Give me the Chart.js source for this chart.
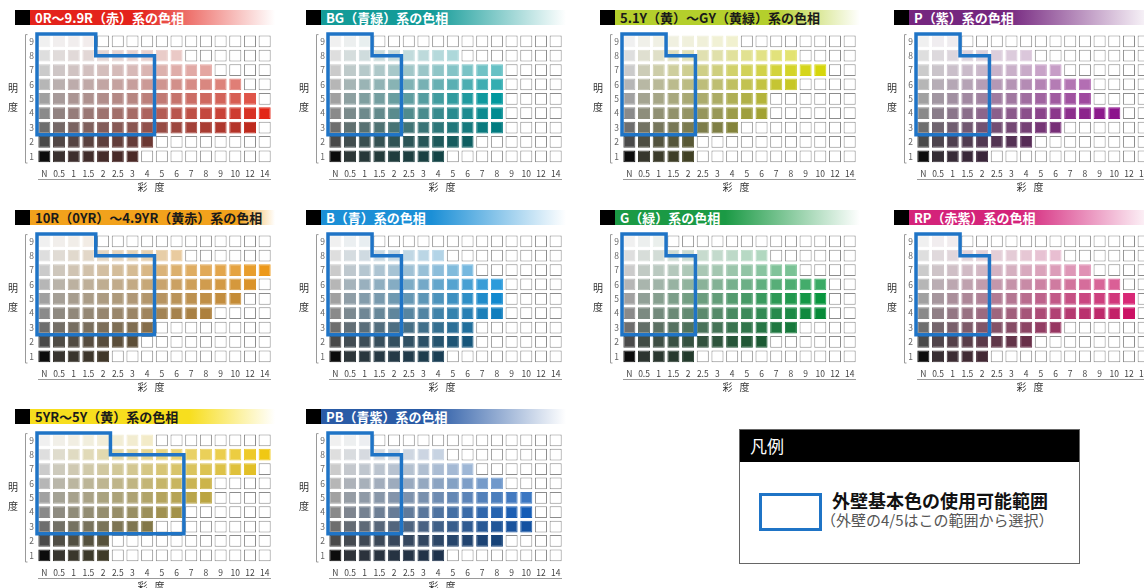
<!DOCTYPE html>
<html><head><meta charset="utf-8">
<script src="https://cdn.jsdelivr.net/npm/chart.js@4.4.1/dist/chart.umd.min.js"></script>
<style>
html,body{margin:0;padding:0;width:1144px;height:588px;overflow:hidden;background:#fff;font-family:"Noto Sans CJK JP","Noto Sans",sans-serif;}
.banner{position:absolute;height:15px;display:flex;}
.banner .blk{width:15px;height:15px;background:#000;flex:none;}
.banner .bar{height:15px;line-height:15px;font-size:13px;font-weight:bold;padding-left:5px;white-space:nowrap;box-sizing:border-box;}
canvas.panel{position:absolute;}
#legend{position:absolute;left:739px;top:429px;width:341px;height:135px;border:1.5px solid #666;box-sizing:border-box;background:#fff;}
#legend .hd{height:32px;background:#000;color:#fff;font-size:17px;line-height:32px;padding-left:10px;}
#legend .sw{position:absolute;left:19px;top:63px;width:63px;height:38px;border:3px solid #1f74c6;box-sizing:border-box;}
#legend .t1{position:absolute;left:92px;top:59px;font-size:18px;line-height:22px;font-weight:bold;color:#111;white-space:nowrap;}
#legend .t2{position:absolute;left:81px;top:80px;font-size:15px;line-height:19px;color:#555;white-space:nowrap;}
</style></head>
<body>
<div id="root"></div>
<div id="legend">
  <div class="hd">凡例</div>
  <div class="sw"></div>
  <div class="t1">外壁基本色の使用可能範囲</div>
  <div class="t2">（外壁の4/5はこの範囲から選択）</div>
</div>
<script>
// ---------- data ----------
const CHROMA = ['N','0.5','1','1.5','2','2.5','3','4','5','6','7','8','9','10','12','14'];
const VALUES = [1,2,3,4,5,6,7,8,9];
const Y_TITLE = ['明','度'];
const X_TITLE = ['彩','度'];
const HUES = ['R','BG','YGY','P','YR','B','G','RP','Y','PB'];
const TITLES = ['0R〜9.9R（赤）系の色相','BG（青緑）系の色相','5.1Y（黄）〜GY（黄緑）系の色相','P（紫）系の色相',
  '10R（0YR）〜4.9YR（黄赤）系の色相','B（青）系の色相','G（緑）系の色相','RP（赤紫）系の色相',
  '5YR〜5Y（黄）系の色相','PB（青紫）系の色相'];
// highest chroma present for each value 1..9
const MAX_R   = ['3','4','12','14','12','10','8','6','1.5'];
const MAX_BG  = ['4','6','8','8','8','8','8','5','1'];
const MAX_YGY = ['2','2','4','6','6','8','10','8','4'];
const MAX_P   = ['2','4','6','10','8','8','6','4','1'];
const MAX_YR  = ['2','3','4','8','10','12','14','6','1.5'];
const MAX_B   = ['4','6','6','8','8','8','6','4','1'];
const MAX_G   = ['2','6','8','10','10','10','8','6','1'];
const MAX_RP  = ['2','4','6','12','12','10','8','6','1'];
const MAX_Y   = ['2','2','4','6','8','8','12','14','4'];
const MAX_PB  = ['4','8','10','10','10','8','6','4','1'];
const MAX_TABLE = {R:MAX_R,BG:MAX_BG,YGY:MAX_YGY,P:MAX_P,YR:MAX_YR,B:MAX_B,G:MAX_G,RP:MAX_RP,Y:MAX_Y,PB:MAX_PB};
// usable range (blue outline): chroma limit for high values and for the rest
const LIMIT_UPPER = ['1.5','1','1','1','1.5','1','1','1','2','1'];
const LIMIT_LOWER = ['4','2','2','2','4','2','2','2','6','2'];
const LIMIT_MIN_VALUE = 3;
const LIMIT_STEP_VALUE = 8;

// ---------- style ----------
const FONT = '"Noto Sans CJK JP","Noto Sans",sans-serif';
const PANEL_POS = [[37,31.7],[328,31.7],[622,31.7],[916,31.7],[37,231.7],[328,231.7],[622,231.7],[916,231.7],[37,430.5],[328,430.5]];
const HUE_STYLE = {
  R:  {rgb:[226,38,22],  peak:4,   banner:'#e4231b', solid:45, text:'#fff'},
  BG: {rgb:[0,152,158],  peak:5,   banner:'#139b98', solid:45, text:'#fff'},
  YGY:{rgb:[214,214,12], peak:7,   banner:'#b4cf2c', solid:65, text:'#1a1a1a'},
  P:  {rgb:[140,18,140], peak:4,   banner:'#75267f', solid:40, text:'#fff'},
  YR: {rgb:[236,152,26], peak:7,   banner:'#f2a21c', solid:85, text:'#1a1a1a'},
  B:  {rgb:[18,142,214], peak:5.5, banner:'#1b8fd6', solid:45, text:'#fff'},
  G:  {rgb:[8,150,62],   peak:5,   banner:'#1b9a45', solid:45, text:'#fff'},
  RP: {rgb:[212,18,104], peak:4.5, banner:'#d4237a', solid:45, text:'#fff'},
  Y:  {rgb:[240,200,20], peak:8,   banner:'#f7de1e', solid:65, text:'#1a1a1a'},
  PB: {rgb:[20,92,182],  peak:4,   banner:'#2a5ba6', solid:45, text:'#fff'}
};
const GRAY = [50,74,110,138,161,182,203,222,240];
const N1_GRAY = 12;
function grayAt(v){ const i=Math.floor(v), f=v-i; if(i>=9) return GRAY[8]; return GRAY[i-1]*(1-f)+GRAY[i]*f; }
function chromaNum(l){ return l==='N'?0:parseFloat(l); }
function cellColor(st, v, c, cmax){
  const g = (c===0 && v===1) ? N1_GRAY : grayAt(v);
  let t;
  if (v <= st.peak){ const k = Math.pow(g/grayAt(st.peak),0.55); t = st.rgb.map(x=>x*k); }
  else { const k = (v-st.peak)/(10-st.peak); t = st.rgb.map(x=>x+(255-x)*k); }
  const s = Math.pow(Math.min(1,c/cmax),0.75);
  const r = t.map(x=>Math.round(g*(1-s)+x*s));
  return `rgb(${r[0]},${r[1]},${r[2]})`;
}

Chart.defaults.font.family = FONT;

const axisDecor = {
  id:'axisDecor',
  afterDraw(chart){
    const {ctx, chartArea:a} = chart;
    ctx.save();
    ctx.strokeStyle='#9a9a9a'; ctx.lineWidth=1;
    const lx = Math.round(a.left-12)+0.5;
    ctx.beginPath(); ctx.moveTo(lx+2,a.top+0.5); ctx.lineTo(lx,a.top+0.5); ctx.lineTo(lx,a.bottom-0.5); ctx.lineTo(lx+2,a.bottom-0.5); ctx.stroke();
    const ly = Math.round(a.bottom+15.5)+0.5;
    ctx.beginPath(); ctx.moveTo(a.left+1,ly); ctx.lineTo(a.right-1,ly); ctx.stroke();
    ctx.fillStyle='#333'; ctx.font='10px '+FONT; ctx.textAlign='center'; ctx.textBaseline='middle';
    ctx.fillText(Y_TITLE[0], a.left-24, a.top+54);
    ctx.fillText(Y_TITLE[1], a.left-24, a.top+73);
    const cx=(a.left+a.right)/2;
    ctx.fillText(X_TITLE[0], cx-12, a.bottom+23.5);
    ctx.fillText(X_TITLE[1], cx+5, a.bottom+23.5);
    ctx.restore();
  }
};

const root = document.getElementById('root');
const CW = 290, CH = 168, PADTOP = 6, YW = 37, AREA_W = 235, XH = 30.5;

HUES.forEach((hue, pi) => {
  const st = HUE_STYLE[hue];
  const [cl, ct] = PANEL_POS[pi];
  const bn = document.createElement('div');
  bn.className='banner';
  bn.style.left=(cl-22)+'px'; bn.style.top=(ct-21.5)+'px';
  const blk=document.createElement('div'); blk.className='blk';
  const bar=document.createElement('div'); bar.className='bar';
  bar.style.width=(AREA_W+10)+'px';
  bar.style.color=st.text;
  bar.style.background=`linear-gradient(to right, ${st.banner} 0%, ${st.banner} ${st.solid}%, rgba(255,255,255,0.9) 100%)`;
  bar.textContent=TITLES[pi];
  bn.appendChild(blk); bn.appendChild(bar); root.appendChild(bn);

  const cv=document.createElement('canvas');
  cv.className='panel'; cv.width=CW; cv.height=CH;
  cv.style.left=(cl-YW)+'px'; cv.style.top=(ct-PADTOP)+'px';
  root.appendChild(cv);

  const maxList = MAX_TABLE[hue];
  const maxIdx = maxList.map(l=>CHROMA.indexOf(l));
  const cmax = Math.max(...maxList.map(chromaNum));
  const datasets = VALUES.map((v, ri) => {
    const bg = CHROMA.map((c,ci)=> ci<=maxIdx[ri] ? cellColor(st, v, chromaNum(c), cmax) : '#ffffff');
    const bc = CHROMA.map((c,ci)=> ci<=maxIdx[ri] ? bg[ci] : '#8c8c8c');
    return {
      type:'bar',
      data: CHROMA.map((c,ci)=>({x:ci, y:[v-0.41, v+0.41]})),
      backgroundColor:bg, borderColor:bc, borderWidth:1, borderSkipped:false,
      grouped:false, barPercentage:0.82, categoryPercentage:1, order:1
    };
  });
  const up = CHROMA.indexOf(LIMIT_UPPER[pi])+0.5;
  const lo = CHROMA.indexOf(LIMIT_LOWER[pi])+0.5;
  const top = VALUES[VALUES.length-1]+0.5, bottom = LIMIT_MIN_VALUE-0.5, step = LIMIT_STEP_VALUE;
  datasets.push({
    type:'line',
    data:[{x:-0.5,y:top},{x:up,y:top},{x:up,y:step},{x:lo,y:step},{x:lo,y:bottom},{x:-0.5,y:bottom},{x:-0.5,y:top}],
    borderColor:'#1f74c6', borderWidth:3.5, pointRadius:0, fill:false, tension:0, order:0,
    borderJoinStyle:'miter', borderCapStyle:'square', clip:false
  });

  new Chart(cv, {
    type:'bar',
    data:{datasets},
    options:{
      responsive:false, animation:false, events:[],
      layout:{padding:{left:0,right:CW-YW-AREA_W,top:PADTOP,bottom:0}},
      plugins:{legend:{display:false}, tooltip:{enabled:false}},
      scales:{
        x:{type:'linear', min:-0.5, max:15.5, offset:false,
           grid:{display:false, drawTicks:false}, border:{display:false},
           afterBuildTicks:s=>{ s.ticks = CHROMA.map((_,i)=>({value:i})); },
           ticks:{autoSkip:false, maxRotation:0, padding:5, color:'#444', font:{size:8.5}, callback:v=>CHROMA[Math.round(v)]},
           afterFit:s=>{ s.height = XH; }},
        y:{type:'linear', min:0.5, max:9.5,
           grid:{display:false, drawTicks:false}, border:{display:false},
           afterBuildTicks:s=>{ s.ticks = VALUES.map(v=>({value:v})); },
           ticks:{autoSkip:false, padding:3, color:'#666', font:{size:8.5}, callback:v=>String(v)},
           afterFit:s=>{ s.width = YW; }}
      }
    },
    plugins:[axisDecor]
  });
});
</script>
</body></html>
